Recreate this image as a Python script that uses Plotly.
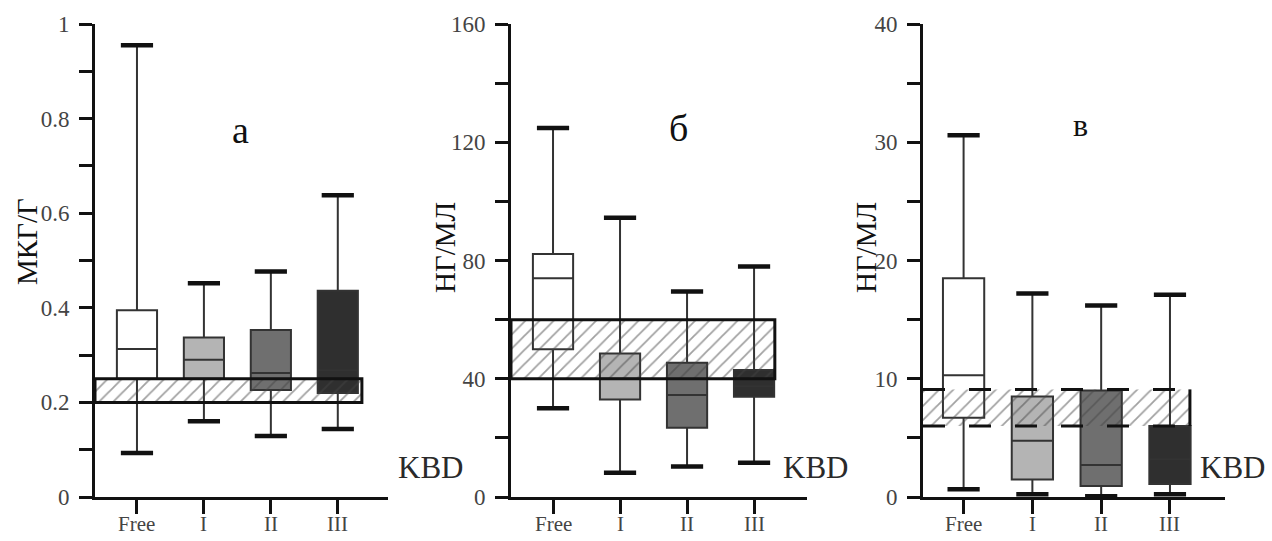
import plotly.graph_objects as go

# ---------------- data ----------------
categories = ["Free", "I", "II", "III"]
box_colors = ["#ffffff", "#b4b4b4", "#6f6f6f", "#2f2f2f"]

# panel а (мкг/г)
a_q1 = [0.25, 0.25, 0.226, 0.22]
a_median = [0.313, 0.29, 0.262, 0.268]
a_q3 = [0.395, 0.337, 0.353, 0.436]
a_low = [0.093, 0.16, 0.129, 0.144]
a_high = [0.955, 0.452, 0.477, 0.638]
a_band = [0.2, 0.25]
a_ticks = [0, 0.2, 0.4, 0.6, 0.8, 1]

# panel б (нг/мл)
b_q1 = [50, 33, 23.4, 33.9]
b_median = [74, 40, 34.5, 37.5]
b_q3 = [82.2, 48.5, 45.4, 43]
b_low = [30, 8.2, 10.3, 11.6]
b_high = [124.8, 94.5, 69.5, 78]
b_band = [40, 60]
b_ticks = [0, 40, 80, 120, 160]

# panel в (нг/мл)
c_q1 = [6.7, 1.47, 0.94, 1.1]
c_median = [10.3, 4.75, 2.7, 3.2]
c_q3 = [18.5, 8.5, 9.0, 6.0]
c_low = [0.65, 0.23, 0.06, 0.23]
c_high = [30.6, 17.2, 16.2, 17.1]
c_band = [6.0, 9.1]
c_ticks = [0, 10, 20, 30, 40]

# ---------------- layout helpers ----------------
W, H = 1272, 541
MT, MB = 24, 44
PH = H - MT - MB
FONT = "Liberation Serif, Times New Roman, serif"


def px(x):
    return x / W


def py(y):
    return (H - MB - y) / PH


panels = [
    dict(q1=a_q1, med=a_median, q3=a_q3, lo=a_low, hi=a_high, band=a_band, ticks=a_ticks,
         minor=0.1, yr=[0, 1], dom=[95, 388], xr=[-0.627, 3.75], band_x1=3.36,
         dashed=False, title="МКГ/Г", tx=27, ty=242, letter="а", lx=240, ly=130, lsize=38, kx=430),
    dict(q1=b_q1, med=b_median, q3=b_q3, lo=b_low, hi=b_high, band=b_band, ticks=b_ticks,
         minor=20, yr=[0, 160], dom=[511, 807], xr=[-0.627, 3.79], band_x1=3.31,
         dashed=False, title="НГ/МЛ", tx=445, ty=248, letter="б", lx=678, ly=128, lsize=38, kx=815),
    dict(q1=c_q1, med=c_median, q3=c_q3, lo=c_low, hi=c_high, band=c_band, ticks=c_ticks,
         minor=5, yr=[0, 40], dom=[923, 1225], xr=[-0.59, 3.8], band_x1=3.29,
         dashed=True, title="НГ/МЛ", tx=866, ty=248, letter="в", lx=1080, ly=125, lsize=32, kx=1232),
]

fig = go.Figure()
annotations = []
layout_axes = {}

for k, p in enumerate(panels):
    xa = "x" if k == 0 else f"x{k+1}"
    ya = "y" if k == 0 else f"y{k+1}"
    xo, yo = f"x{k+4}", f"y{k+4}"   # overlay axes (drawn on top of boxes)
    xs = list(range(len(categories)))

    # boxes
    for i, cat in enumerate(categories):
        fig.add_trace(go.Box(
            x=[xs[i]], q1=[p["q1"][i]], median=[p["med"][i]], q3=[p["q3"][i]],
            lowerfence=[p["lo"][i]], upperfence=[p["hi"][i]],
            width=0.6, whiskerwidth=0, fillcolor=box_colors[i],
            line=dict(color="#333333", width=2),
            showlegend=False, xaxis=xa, yaxis=ya, hoverinfo="skip",
        ))

    # hatched KBD band (on overlay axes)
    x0, x1 = p["xr"][0], p["band_x1"]
    lo, hi = p["band"]
    fig.add_trace(go.Scatter(
        x=[x0, x1, x1, x0, x0], y=[lo, lo, hi, hi, lo],
        mode="lines", fill="toself", fillcolor="rgba(0,0,0,0)",
        fillpattern=dict(shape="/", size=10, solidity=0.18, fgcolor="#444444",
                         bgcolor="rgba(0,0,0,0)"),
        line=dict(width=0) if p["dashed"] else dict(color="#111111", width=3),
        showlegend=False, xaxis=xo, yaxis=yo, hoverinfo="skip",
    ))
    if p["dashed"]:
        for yv in (lo, hi):
            fig.add_trace(go.Scatter(
                x=[x0, x1], y=[yv, yv], mode="lines",
                line=dict(color="#111111", width=3, dash="22px,24px"),
                showlegend=False, xaxis=xo, yaxis=yo, hoverinfo="skip"))
        fig.add_trace(go.Scatter(
            x=[x1, x1], y=[lo, hi], mode="lines",
            line=dict(color="#111111", width=3),
            showlegend=False, xaxis=xo, yaxis=yo, hoverinfo="skip"))

    # whisker caps
    fig.add_trace(go.Scatter(
        x=xs + xs, y=p["lo"] + p["hi"], mode="markers",
        marker=dict(symbol="line-ew", size=23, line=dict(width=4.5, color="#111111")),
        showlegend=False, xaxis=xo, yaxis=yo, hoverinfo="skip", cliponaxis=False,
    ))

    axis_common = dict(showline=True, linecolor="#111111", linewidth=3, showgrid=False,
                       zeroline=False, ticks="outside", tickcolor="#111111", tickwidth=2.5,
                       automargin=False)
    layout_axes["xaxis" if k == 0 else f"xaxis{k+1}"] = dict(
        axis_common, domain=[px(p["dom"][0]), px(p["dom"][1])], range=p["xr"],
        anchor=ya, tickvals=xs, ticklen=14, showticklabels=False)
    layout_axes["yaxis" if k == 0 else f"yaxis{k+1}"] = dict(
        axis_common, domain=[0, 1], range=p["yr"], anchor=xa,
        tickvals=p["ticks"], ticklen=13, ticklabelstandoff=5,
        tickfont=dict(family=FONT, size=23, color="#444444"),
        minor=dict(dtick=p["minor"], tick0=0, ticks="outside", ticklen=13,
                   tickwidth=2.5, tickcolor="#111111"))
    layout_axes[f"xaxis{k+4}"] = dict(overlaying=xa, range=p["xr"], visible=False,
                                      anchor=yo, showgrid=False, zeroline=False,
                                      automargin=False)
    layout_axes[f"yaxis{k+4}"] = dict(overlaying=ya, range=p["yr"], visible=False,
                                      anchor=xo, showgrid=False, zeroline=False,
                                      automargin=False)

    # category labels under the x axis
    for i, cat in enumerate(categories):
        annotations.append(dict(x=xs[i], xref=xa, y=py(524), yref="paper",
                                xanchor="center", yanchor="middle", text=cat,
                                showarrow=False,
                                font=dict(family=FONT, size=21, color="#444444")))

    annotations.append(dict(x=px(p["tx"]), y=py(p["ty"]), xref="paper", yref="paper",
                            xanchor="center", yanchor="middle",
                            text=p["title"], textangle=-90, showarrow=False,
                            font=dict(family=FONT, size=29, color="#111111")))
    annotations.append(dict(x=px(p["lx"]), y=py(p["ly"]), xref="paper", yref="paper",
                            xanchor="center", yanchor="middle",
                            text=p["letter"], showarrow=False,
                            font=dict(family=FONT, size=p["lsize"], color="#111111")))
    annotations.append(dict(x=px(p["kx"]), y=py(467), xref="paper", yref="paper",
                            xanchor="center", yanchor="middle",
                            text="KBD", showarrow=False,
                            font=dict(family=FONT, size=31, color="#2a2a2a")))

fig.update_layout(
    width=W, height=H, margin=dict(l=0, r=0, t=MT, b=MB, autoexpand=False),
    paper_bgcolor="white", plot_bgcolor="white",
    annotations=annotations, showlegend=False, **layout_axes,
)

fig.write_html("out.html")
